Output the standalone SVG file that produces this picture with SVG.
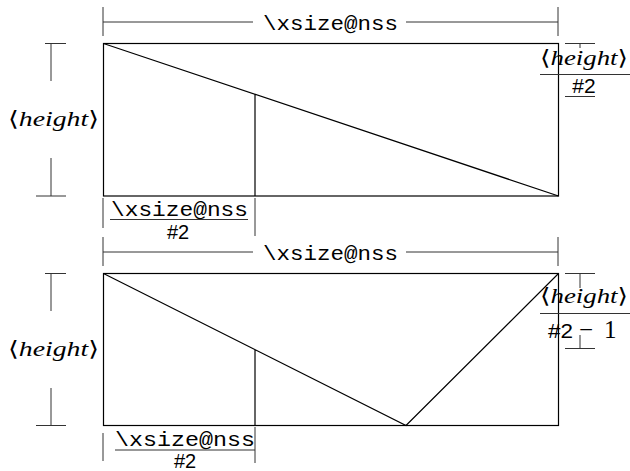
<svg xmlns="http://www.w3.org/2000/svg" width="630" height="471" viewBox="0 0 630 471">
<style>
.fig{fill:none;stroke:#000;stroke-width:1.2}
.dim{fill:none;stroke:#333;stroke-width:1}
.tt{font-family:"Liberation Mono","DejaVu Sans Mono",monospace;font-size:21px;fill:#000}
.ttf{font-size:20px}
.it{font-family:"Liberation Serif","DejaVu Serif",serif;font-style:italic;font-size:21px;fill:#000}
.ang{font-family:"DejaVu Serif","Liberation Serif",serif;font-style:normal}
.sf{font-family:"Liberation Sans","DejaVu Sans",sans-serif;font-size:21px;fill:#000}
.sfd{font-size:20px}
.rm{font-family:"Liberation Serif","DejaVu Serif",serif;font-size:25px;fill:#000}
</style>
<rect width="630" height="471" fill="#fff"/>

<g id="top-diagram">
  <g id="top-width-dim">
    <path class="dim" d="M103,7V36M558,7V36M103,22H253M406,22H558"/>
    <text class="tt" x="263" y="30" textLength="135" lengthAdjust="spacingAndGlyphs">\xsize@nss</text>
  </g>
  <g id="top-box">
    <rect class="fig" x="103.5" y="43.5" width="455" height="152.5"/>
    <path class="fig" d="M103.5,43.5L558.5,196M255,94.8V196"/>
  </g>
  <g id="top-height-dim">
    <path class="dim" d="M45,43.5H66M51,43.5V81M51,158V196M36,196H66"/>
    <text class="it" x="8" y="126" textLength="91" lengthAdjust="spacingAndGlyphs"><tspan class="ang">⟨</tspan>height<tspan class="ang">⟩</tspan></text>
  </g>
  <g id="top-half-width">
    <path class="dim" d="M103,198V228M255,198V236M110,219.5H248"/>
    <text class="tt ttf" x="111" y="216" textLength="137" lengthAdjust="spacingAndGlyphs">\xsize@nss</text>
    <text class="sf sfd" x="178" y="239" text-anchor="middle">#2</text>
  </g>
  <g id="top-half-height">
    <path class="dim" d="M565,43.5H595M580,43.5V48M565,96.5H595M540,74.5H630"/>
    <text class="it" x="540" y="65" textLength="88" lengthAdjust="spacingAndGlyphs"><tspan class="ang">⟨</tspan>height<tspan class="ang">⟩</tspan></text>
    <text class="sf" x="584" y="93" text-anchor="middle">#2</text>
  </g>
</g>

<g id="bottom-diagram">
  <g id="bottom-width-dim">
    <path class="dim" d="M103,237V266M558,237V266M103,252H253M406,252H558"/>
    <text class="tt" x="263" y="260" textLength="135" lengthAdjust="spacingAndGlyphs">\xsize@nss</text>
  </g>
  <g id="bottom-box">
    <rect class="fig" x="103.5" y="273.5" width="455" height="152"/>
    <path class="fig" d="M103.5,273.5L406,425.5L558.5,273.5M255,349.5V425.5"/>
  </g>
  <g id="bottom-height-dim">
    <path class="dim" d="M45,273.5H66M51,273.5V311M51,388V425.5M36,425.5H66"/>
    <text class="it" x="8" y="356" textLength="91" lengthAdjust="spacingAndGlyphs"><tspan class="ang">⟨</tspan>height<tspan class="ang">⟩</tspan></text>
  </g>
  <g id="bottom-half-width">
    <path class="dim" d="M103,433V461M255,427V463M115,450H255"/>
    <text class="tt ttf" x="115" y="446" textLength="140" lengthAdjust="spacingAndGlyphs">\xsize@nss</text>
    <text class="sf sfd" x="185" y="468" text-anchor="middle">#2</text>
  </g>
  <g id="bottom-height-fraction">
    <path class="dim" d="M565,273.5H595M580,273.5V288M580,335V348.5M565,348.5H595M540,313.5H630"/>
    <text class="it" x="540" y="303" textLength="88" lengthAdjust="spacingAndGlyphs"><tspan class="ang">⟨</tspan>height<tspan class="ang">⟩</tspan></text>
    <text class="sf" x="548" y="338" textLength="25" lengthAdjust="spacingAndGlyphs">#2</text>
    <text class="rm" x="579" y="338">−</text>
    <text class="rm" x="604" y="338">1</text>
  </g>
</g>
</svg>
